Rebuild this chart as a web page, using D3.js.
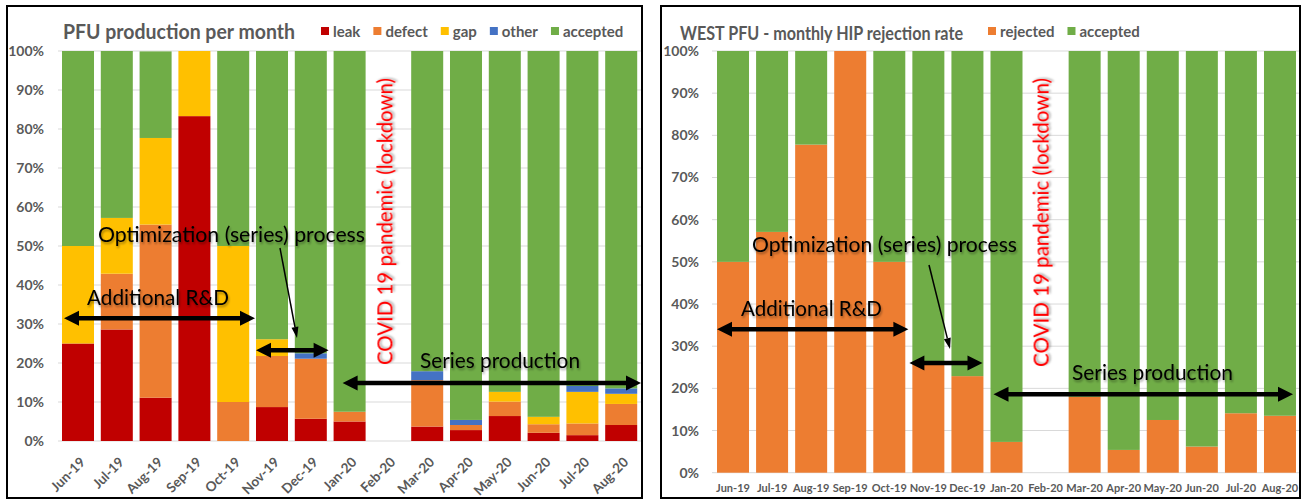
<!DOCTYPE html>
<html>
<head>
<meta charset="utf-8">
<script src="https://cdn.jsdelivr.net/npm/d3@7"></script>
<style>
  body { margin: 0; background: #fff; }
  svg { display: block; font-family: Lato, "Open Sans", sans-serif; }
</style>
</head>
<body>
<svg id="chart" width="1306" height="502"></svg>
<script>
// months shown on both charts
const months = ["Jun-19", "Jul-19", "Aug-19", "Sep-19", "Oct-19", "Nov-19", "Dec-19", "Jan-20",
  "Feb-20", "Mar-20", "Apr-20", "May-20", "Jun-20", "Jul-20", "Aug-20"];

// left chart, share of production per month (%)
const leak     = [25, 28.6, 11.1, 83.3, 0, 8.7, 5.7, 5.0, 0, 3.7, 2.8, 6.4, 2.1, 1.5, 4.1];
const defect   = [0, 14.3, 44.4, 0, 10, 13.1, 15.4, 2.5, 0, 11.9, 1.3, 3.7, 2.2, 3.0, 5.4];
const gap      = [25, 14.3, 22.2, 16.7, 40, 4.3, 0, 0, 0, 0, 0, 2.5, 1.9, 8.1, 2.6];
const other    = [0, 0, 0, 0, 0, 0, 1.4, 0, 0, 2.3, 1.3, 0, 0, 1.5, 1.4];
const accepted = [50, 42.8, 22.2, 0, 50, 73.9, 77.5, 92.5, 0, 82.1, 94.6, 87.4, 93.8, 85.9, 86.5];

// right chart, HIP rejection rate (%)
const rejected     = [50, 57.1, 77.8, 100, 50, 26.1, 22.9, 7.3, 0, 18.0, 5.4, 12.5, 6.2, 14.1, 13.5];
const acceptedWest = [50, 42.9, 22.2, 0, 50, 73.9, 77.1, 92.7, 0, 82.0, 94.6, 87.5, 93.8, 85.9, 86.5];

const yTicks = [0, 10, 20, 30, 40, 50, 60, 70, 80, 90, 100];

const colors = {
  leak: "#C00000", defect: "#ED7D31", gap: "#FFC000", other: "#4472C4",
  accepted: "#70AD47", rejected: "#ED7D31"
};
const gray = "#595959";

const svg = d3.select("#chart");

// soft shadow used on the annotation text
svg.append("defs").append("filter")
  .attr("id", "shadow").attr("x", "-10%").attr("y", "-40%").attr("width", "130%").attr("height", "200%")
  .append("feDropShadow")
  .attr("dx", 1).attr("dy", 2).attr("stdDeviation", 1.2)
  .attr("flood-color", "#000").attr("flood-opacity", 0.35);

function gridAndY(g, y, x0, x1, labelX, fontSize) {
  g.append("g").selectAll("line")
    .data(yTicks)
    .join("line")
    .attr("x1", x0).attr("x2", x1)
    .attr("y1", d => y(d)).attr("y2", d => y(d))
    .attr("stroke", "#d9d9d9").attr("stroke-width", 1);

  const ax = g.append("g")
    .attr("transform", `translate(${labelX},0)`)
    .call(d3.axisLeft(y).tickValues(yTicks).tickSize(0).tickPadding(0).tickFormat(d => d + "%"));
  ax.select(".domain").remove();
  ax.selectAll("text")
    .attr("fill", gray)
    .style("font-family", "Lato, sans-serif")
    .style("font-weight", "bold")
    .style("font-size", fontSize + "px");
}

function dblArrow(g, x0, x1, y) {
  const h = 15, w = 7.5;
  g.append("line")
    .attr("x1", x0 + h - 2).attr("x2", x1 - h + 2)
    .attr("y1", y).attr("y2", y)
    .attr("stroke", "#000").attr("stroke-width", 4.5);
  g.append("path").attr("d", `M${x0},${y}L${x0 + h},${y - w}L${x0 + h},${y + w}Z`).attr("fill", "#000");
  g.append("path").attr("d", `M${x1},${y}L${x1 - h},${y - w}L${x1 - h},${y + w}Z`).attr("fill", "#000");
}

function thinArrow(g, xa, ya, xb, yb) {
  const ang = Math.atan2(yb - ya, xb - xa);
  const h = 11, w = 3.5;
  const bx = xb - h * Math.cos(ang), by = yb - h * Math.sin(ang);
  g.append("line")
    .attr("x1", xa).attr("y1", ya).attr("x2", bx).attr("y2", by)
    .attr("stroke", "#000").attr("stroke-width", 1.5);
  g.append("path")
    .attr("d", `M${xb},${yb}L${bx - w * Math.sin(ang)},${by + w * Math.cos(ang)}L${bx + w * Math.sin(ang)},${by - w * Math.cos(ang)}Z`)
    .attr("fill", "#000");
}

function label(g, txt, x, y, len, size) {
  g.append("text")
    .attr("x", x).attr("y", y)
    .attr("dominant-baseline", "central")
    .attr("textLength", len).attr("lengthAdjust", "spacingAndGlyphs")
    .attr("filter", "url(#shadow)")
    .style("font-size", size + "px")
    .style("font-family", "Lato, sans-serif")
    .attr("fill", "#000")
    .text(txt);
}

function covid(g, x, y, len) {
  g.append("text")
    .attr("transform", `translate(${x},${y}) rotate(-90)`)
    .attr("dominant-baseline", "central")
    .attr("textLength", len).attr("lengthAdjust", "spacingAndGlyphs")
    .attr("filter", "url(#shadow)")
    .style("font-size", "21px")
    .attr("fill", "#FF0000")
    .text("COVID 19 pandemic (lockdown)");
}

function legend(g, items, x, y, size) {
  let cx = x;
  items.forEach(it => {
    g.append("rect").attr("x", cx).attr("y", y - 4).attr("width", 8).attr("height", 8).attr("fill", colors[it]);
    const t = g.append("text")
      .attr("x", cx + 12).attr("y", y)
      .attr("dominant-baseline", "central")
      .attr("fill", gray)
      .style("font-weight", "bold")
      .style("font-size", size + "px")
      .text(it);
    cx += 12 + t.node().getComputedTextLength() + 13;
  });
}

// ---------- left panel ----------
const L = svg.append("g");
L.append("rect").attr("x", 7).attr("y", 6).attr("width", 635).attr("height", 492)
  .attr("fill", "#fff").attr("stroke", "#000").attr("stroke-width", 2);

const xL = d3.scaleBand().domain(months).range([58.6, 640.6]).paddingInner(0.175).paddingOuter(0.0875);
const yL = d3.scaleLinear().domain([0, 100]).range([441, 51]);

gridAndY(L, yL, 58, 641, 44, 14);

const keysL = ["leak", "defect", "gap", "other", "accepted"];
const tableL = months.map((m, i) => ({
  month: m, leak: leak[i], defect: defect[i], gap: gap[i], other: other[i], accepted: accepted[i]
}));
const stackL = d3.stack().keys(keysL)(tableL);

L.append("g").selectAll("g")
  .data(stackL)
  .join("g")
  .attr("fill", d => colors[d.key])
  .selectAll("rect")
  .data(d => d)
  .join("rect")
  .attr("x", d => xL(d.data.month))
  .attr("width", xL.bandwidth())
  .attr("y", d => yL(d[1]))
  .attr("height", d => yL(d[0]) - yL(d[1]));

const xAxL = L.append("g")
  .attr("transform", `translate(0,${yL(0)})`)
  .call(d3.axisBottom(xL).tickSize(0));
xAxL.select(".domain").remove();
xAxL.selectAll("text")
  .attr("x", 0).attr("y", 0).attr("dy", 0)
  .attr("transform", "translate(8,22) rotate(-45)")
  .style("text-anchor", "end")
  .style("font-family", "Lato, sans-serif")
  .style("font-weight", "bold")
  .style("font-size", "13.5px")
  .attr("fill", gray);

L.append("text")
  .attr("x", 63).attr("y", 30)
  .attr("dominant-baseline", "central")
  .attr("textLength", 232).attr("lengthAdjust", "spacingAndGlyphs")
  .attr("fill", gray)
  .style("font-weight", "bold").style("font-size", "21px")
  .text("PFU production per month");

legend(L, keysL, 321, 31, 15);

// annotations
covid(L, xL("Feb-20") + xL.bandwidth() / 2 - 5, 365, 287);
label(L, "Optimization (series) process", 98, yL(53.3), 267, 21);
label(L, "Additional R&D", 87, yL(37), 142, 21);
label(L, "Series production", 420, yL(20.8), 160, 21);
dblArrow(L, xL("Jun-19") + 2, xL("Nov-19") - 1, yL(31.5));
dblArrow(L, xL("Nov-19"), xL("Jan-20") - 5, yL(23.3));
dblArrow(L, xL("Jan-20") + 9, 641, yL(14.9));
thinArrow(L, 280, 248, 297, 338);

// ---------- right panel ----------
const R = svg.append("g");
R.append("rect").attr("x", 661).attr("y", 6).attr("width", 639).attr("height", 492)
  .attr("fill", "#fff").attr("stroke", "#000").attr("stroke-width", 2);

const xR = d3.scaleBand().domain(months).range([713.5, 1299.5]).paddingInner(0.181).paddingOuter(0.09);
const yR = d3.scaleLinear().domain([0, 100]).range([472.7, 51]);

gridAndY(R, yR, 712, 1299, 699, 14);

const keysR = ["rejected", "accepted"];
const tableR = months.map((m, i) => ({ month: m, rejected: rejected[i], accepted: acceptedWest[i] }));
const stackR = d3.stack().keys(keysR)(tableR);

R.append("g").selectAll("g")
  .data(stackR)
  .join("g")
  .attr("fill", d => colors[d.key])
  .selectAll("rect")
  .data(d => d)
  .join("rect")
  .attr("x", d => xR(d.data.month))
  .attr("width", xR.bandwidth())
  .attr("y", d => yR(d[1]))
  .attr("height", d => yR(d[0]) - yR(d[1]));

const xAxR = R.append("g")
  .attr("transform", `translate(0,${yR(0)})`)
  .call(d3.axisBottom(xR).tickSize(0).tickPadding(12));
xAxR.select(".domain").remove();
xAxR.selectAll("text")
  .style("font-family", "Lato, sans-serif")
  .style("font-weight", "bold")
  .style("font-size", "11px")
  .attr("fill", gray);

R.append("text")
  .attr("x", 680).attr("y", 33)
  .attr("dominant-baseline", "central")
  .attr("textLength", 283).attr("lengthAdjust", "spacingAndGlyphs")
  .attr("fill", gray)
  .style("font-weight", "bold").style("font-size", "18px")
  .text("WEST PFU - monthly HIP rejection rate");

legend(R, keysR, 988, 31, 15);

covid(R, xR("Feb-20") + xR.bandwidth() / 2 - 6, 367, 289);
label(R, "Optimization (series) process", 752, yR(54.4), 265, 21);
label(R, "Additional R&D", 741, yR(39.2), 141, 21);
label(R, "Series production", 1072, yR(23.9), 161, 21);
dblArrow(R, xR("Jun-19"), xR("Nov-19") - 4, yR(34));
dblArrow(R, xR("Nov-19") - 3, xR("Jan-20") - 8, yR(26));
dblArrow(R, xR("Jan-20") + 3, 1293, yR(18.6));
thinArrow(R, 929, 265, 950, 349);
</script>
</body>
</html>
